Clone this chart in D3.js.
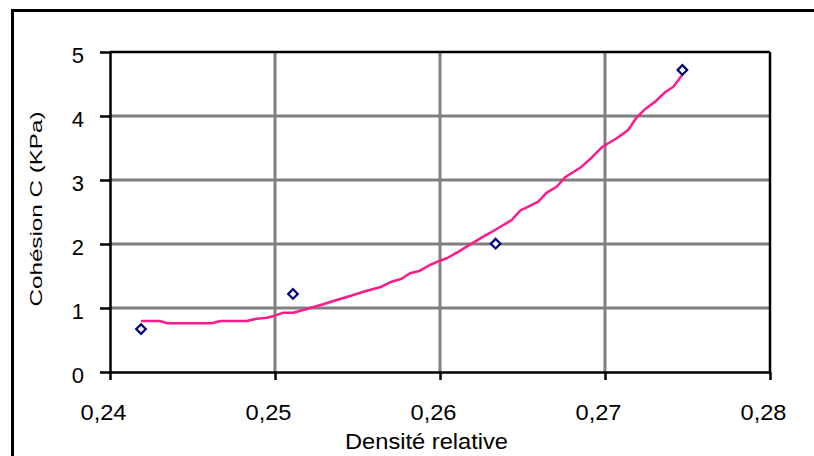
<!DOCTYPE html>
<html>
<head>
<meta charset="utf-8">
<script src="https://cdn.jsdelivr.net/npm/d3@7"></script>
<style>
  html, body { margin: 0; padding: 0; background: #fff; }
  svg { display: block; font-family: "Liberation Sans", Arial, sans-serif; }
</style>
</head>
<body>
<svg id="chart" width="814" height="456"></svg>
<script>
// Measured points (diamonds)
const pointX = [0.24188, 0.25109, 0.26337, 0.27469];
const pointY = [0.67, 1.22, 2.005, 4.72];

// Fitted curve (magenta line)
const curveX = [0.24188, 0.24303, 0.24347, 0.24616, 0.24671, 0.24828, 0.24889, 0.24950, 0.25000, 0.25050,
  0.25111, 0.25192, 0.25293, 0.25374, 0.25455, 0.25556, 0.25636, 0.25707, 0.25768, 0.25818,
  0.25879, 0.25939, 0.26000, 0.26044, 0.26101, 0.26162, 0.26222, 0.26273, 0.26323, 0.26384,
  0.26435, 0.26485, 0.26545, 0.26596, 0.26647, 0.26707, 0.26758, 0.26859, 0.26919, 0.26980,
  0.27071, 0.27141, 0.27192, 0.27242, 0.27303, 0.27364, 0.27414, 0.27468];
const curveY = [0.797, 0.797, 0.761, 0.761, 0.797, 0.797, 0.833, 0.848, 0.880, 0.927,
  0.927, 0.984, 1.058, 1.125, 1.188, 1.270, 1.323, 1.411, 1.458, 1.542,
  1.583, 1.672, 1.739, 1.781, 1.864, 1.958, 2.052, 2.130, 2.203, 2.297,
  2.375, 2.52, 2.594, 2.661, 2.802, 2.895, 3.042, 3.208, 3.348, 3.511,
  3.652, 3.781, 3.980, 4.105, 4.223, 4.370, 4.458, 4.641];

const xTicks = [0.24, 0.25, 0.26, 0.27, 0.28];
const yTicks = [0, 1, 2, 3, 4, 5];
const xTitle = "Densité relative";
const yTitle = "Cohésion C (KPa)";

const svg = d3.select("#chart");
const L = 110, R = 770, T = 52, B = 372;

const x = d3.scaleLinear().domain([0.24, 0.28]).range([L, R]);
const y = d3.scaleLinear().domain([0, 5]).range([B, T]);
const fmt = d => d3.format(".2f")(d).replace(".", ",");

// outer border
svg.append("rect").attr("x", 12.5).attr("y", 10.5).attr("width", 900).attr("height", 600)
  .attr("fill", "none").attr("stroke", "#000").attr("stroke-width", 3);

// gridlines
svg.append("g").selectAll("line.h").data(yTicks.filter(d => d > 0 && d < 5)).join("line")
  .attr("x1", L).attr("x2", R).attr("y1", d => y(d)).attr("y2", d => y(d))
  .attr("stroke", "#808080").attr("stroke-width", 3);
svg.append("g").selectAll("line.v").data(xTicks.filter(d => d > 0.24 && d < 0.28)).join("line")
  .attr("y1", T).attr("y2", B).attr("x1", d => x(d)).attr("x2", d => x(d))
  .attr("stroke", "#808080").attr("stroke-width", 3);

// plot frame top/right
svg.append("line").attr("x1", L).attr("x2", R).attr("y1", T).attr("y2", T)
  .attr("stroke", "#000").attr("stroke-width", 2.5);
svg.append("line").attr("x1", R).attr("x2", R).attr("y1", T).attr("y2", B)
  .attr("stroke", "#000").attr("stroke-width", 2.5);

// axes
const xAxis = svg.append("g").attr("transform", `translate(0,${B})`)
  .call(d3.axisBottom(x).tickValues(xTicks).tickFormat(fmt).tickSize(8).tickSizeOuter(0));
const yAxis = svg.append("g").attr("transform", `translate(${L},0)`)
  .call(d3.axisLeft(y).tickValues(yTicks).tickFormat(d3.format("d")).tickSize(10).tickSizeOuter(0));

[xAxis, yAxis].forEach(g => {
  g.select(".domain").attr("stroke", "#000").attr("stroke-width", 2.5);
  g.selectAll(".tick line").attr("stroke", "#000").attr("stroke-width", 2.5);
  g.selectAll(".tick text").attr("fill", "#000").attr("font-size", 22)
    .attr("font-family", "'Liberation Sans', Arial, sans-serif");
});
xAxis.selectAll(".tick text").attr("y", 48).attr("dy", 0).attr("x", -7)
  .attr("textLength", 46).attr("lengthAdjust", "spacingAndGlyphs");
yAxis.selectAll(".tick text").attr("x", -26).attr("dy", 0).attr("y", 10.6);

// titles
svg.append("text").attr("x", 426.5).attr("y", 449).attr("text-anchor", "middle")
  .attr("font-size", 22).attr("fill", "#000")
  .attr("textLength", 163).attr("lengthAdjust", "spacingAndGlyphs").text(xTitle);
svg.append("text").attr("transform", "translate(42,209) rotate(-90)").attr("text-anchor", "middle")
  .attr("font-size", 16).attr("fill", "#000")
  .attr("textLength", 195).attr("lengthAdjust", "spacingAndGlyphs").text(yTitle);

// curve
const curve = curveX.map((d, i) => [d, curveY[i]]);
svg.append("path").datum(curve)
  .attr("d", d3.line().x(d => x(d[0])).y(d => y(d[1])))
  .attr("fill", "none").attr("stroke", "#ff1a8c").attr("stroke-width", 2.5)
  .attr("stroke-linejoin", "round");

// points
const pts = pointX.map((d, i) => [d, pointY[i]]);
svg.append("g").selectAll("path").data(pts).join("path")
  .attr("d", d3.symbol(d3.symbolSquare, 46))
  .attr("transform", d => `translate(${x(d[0])},${y(d[1])}) rotate(45)`)
  .attr("fill", "#fff").attr("stroke", "#000080").attr("stroke-width", 2.2);
</script>
</body>
</html>
